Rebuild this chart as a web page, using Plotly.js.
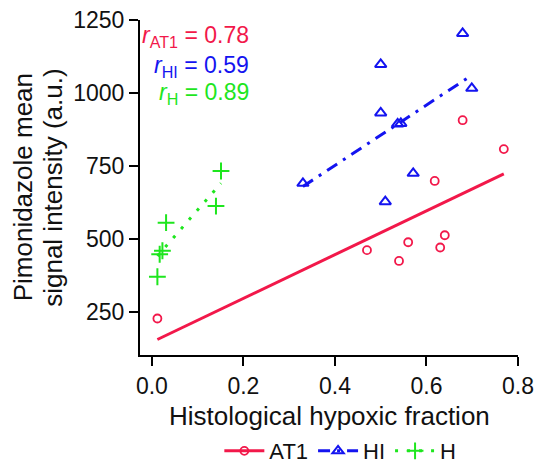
<!DOCTYPE html>
<html>
<head>
<meta charset="utf-8">
<script src="https://cdn.plot.ly/plotly-3.0.1.min.js"></script>
<style>html,body{margin:0;padding:0;background:#fff;}#chart{width:535px;height:465px;}</style>
</head>
<body>
<div id="chart"></div>
<script>
// AT1 data
const at1X = [0.012, 0.47, 0.54, 0.56, 0.618, 0.63, 0.64, 0.679, 0.769];
const at1Y = [228, 462, 425, 489, 699, 471, 513, 907, 808];
const at1FitX = [0.012, 0.769];
const at1FitY = [156, 723];
// HI data
const hiX = [0.33, 0.50, 0.51, 0.537, 0.544, 0.571, 0.679, 0.50, 0.699];
const hiY = [691, 932, 628, 894, 896, 725, 1204, 1098, 1016];
const hiFitX = [0.33, 0.70];
const hiFitY = [680, 1062];
// H data
const hX = [0.012, 0.017, 0.023, 0.031, 0.14, 0.151];
const hY = [371, 448, 460, 556, 613, 733];
const hFitX = [0.012, 0.151];
const hFitY = [442, 691];
// Labels
const xTicks = [0, 0.2, 0.4, 0.6, 0.8];
const xTickText = ['0.0', '0.2', '0.4', '0.6', '0.8'];
const yTicks = [250, 500, 750, 1000, 1250];
const xTitle = 'Histological hypoxic fraction';
const yTitleLines = ['Pimonidazole mean', 'signal intensity (a.u.)'];
const rLabels = ['<i>r</i><sub>AT1</sub> = 0.78', '<i>r</i><sub>HI</sub> = 0.59', '<i>r</i><sub>H</sub> = 0.89'];
const rLabelY = [1194, 1092, 999];

const RED = '#F2184A', BLUE = '#1414F0', GREEN = '#1EE61E';
const FONT = 'Liberation Sans, Arial, Helvetica, sans-serif';
const blueDash = '12px,7px,3px,7px';
const greenDash = '3px,9px';

const traces = [
  {x: at1FitX, y: at1FitY, mode: 'lines', line: {color: RED, width: 3}, showlegend: false, hoverinfo: 'skip'},
  {x: hiFitX, y: hiFitY, mode: 'lines', line: {color: BLUE, width: 3, dash: blueDash}, showlegend: false, hoverinfo: 'skip'},
  {x: hFitX, y: hFitY, mode: 'lines', line: {color: GREEN, width: 3, dash: greenDash}, showlegend: false, hoverinfo: 'skip'},
  {x: at1X, y: at1Y, mode: 'markers', marker: {symbol: 'circle-open', size: 8, color: RED, line: {color: RED, width: 1.8}}, showlegend: false},
  {x: hiX, y: hiY, mode: 'markers', marker: {symbol: 'triangle-up-open', size: 10, color: BLUE, line: {color: BLUE, width: 2}}, showlegend: false},
  {x: hX, y: hY, mode: 'markers', marker: {symbol: 'cross-thin-open', size: 12, color: GREEN, line: {color: GREEN, width: 2}}, showlegend: false},
  // legend entries
  {x: [null], y: [null], name: 'AT1', mode: 'lines+markers', line: {color: RED, width: 3}, marker: {symbol: 'circle-open', size: 8, color: RED, line: {color: RED, width: 1.8}}},
  {x: [null], y: [null], name: 'HI', mode: 'lines+markers', line: {color: BLUE, width: 3, dash: blueDash}, marker: {symbol: 'triangle-up-open', size: 10, color: BLUE, line: {color: BLUE, width: 2}}},
  {x: [null], y: [null], name: 'H', mode: 'lines+markers', line: {color: GREEN, width: 3, dash: greenDash}, marker: {symbol: 'cross-thin-open', size: 12, color: GREEN, line: {color: GREEN, width: 2}}}
];

const annColors = [RED, BLUE, GREEN];
const annotations = rLabels.map((t, i) => ({
  x: 0.216, y: rLabelY[i], xref: 'x', yref: 'y', xanchor: 'right', yanchor: 'middle',
  text: t, showarrow: false, font: {family: FONT, size: 23, color: annColors[i]}
}));
// axis titles as annotations for exact placement
annotations.push({x: 0.5, y: -0.182, xref: 'paper', yref: 'paper', xanchor: 'center', yanchor: 'middle',
  text: xTitle, showarrow: false, font: {family: FONT, size: 26, color: '#111'}});
const yTitleX = [-0.31, -0.232];
yTitleLines.forEach((t, i) => annotations.push({x: yTitleX[i], y: 0.5, xref: 'paper', yref: 'paper',
  xanchor: 'center', yanchor: 'middle', textangle: -90, text: t, showarrow: false,
  font: {family: FONT, size: 26, color: '#111'}}));

const axisCommon = {
  showline: true, linewidth: 2, linecolor: '#000', ticks: 'outside', ticklen: 9, tickwidth: 2,
  tickcolor: '#000', showgrid: false, zeroline: false, tickfont: {family: FONT, size: 23, color: '#111'}
};

const layout = {
  width: 535, height: 465,
  margin: {l: 140, r: 17, t: 20, b: 110},
  paper_bgcolor: '#fff', plot_bgcolor: '#fff',
  font: {family: FONT, color: '#111'},
  xaxis: Object.assign({}, axisCommon, {range: [-0.026, 0.8], tickvals: xTicks, ticktext: xTickText}),
  yaxis: Object.assign({}, axisCommon, {range: [103, 1250], tickvals: yTicks}),
  legend: {orientation: 'h', x: 0.53, xanchor: 'center', yref: 'container', y: 0.03, yanchor: 'middle',
    itemwidth: 40, font: {family: FONT, size: 22, color: '#111'}, bgcolor: 'rgba(0,0,0,0)', traceorder: 'normal'},
  annotations: annotations,
  showlegend: true
};

Plotly.newPlot('chart', traces, layout, {staticPlot: true, displayModeBar: false});
</script>
</body>
</html>
